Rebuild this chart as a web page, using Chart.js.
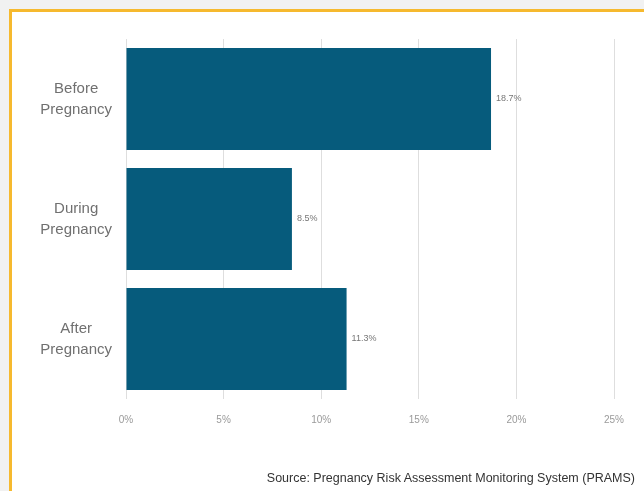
<!DOCTYPE html>
<html>
<head>
<meta charset="utf-8">
<script src="https://cdn.jsdelivr.net/npm/chart.js@4/dist/chart.umd.min.js"></script>
<style>
  html, body { margin: 0; padding: 0; background: #f1f1f1; }
  #wrap { position: relative; width: 644px; height: 491px; overflow: hidden; }
  #frame { position: absolute; left: 9px; top: 9px; width: 700px; height: 600px;
           background: #fff; border-left: 3px solid #f6b92e; border-top: 3px solid #f6b92e; }
  #chart { position: absolute; left: 0; top: 0; }
  #source { position: absolute; right: 9px; top: 471px; font: 12.5px "Liberation Sans", Arial, sans-serif;
            color: #333; white-space: nowrap; }
</style>
</head>
<body>
<div id="wrap">
  <div id="frame"></div>
  <canvas id="chart" width="644" height="491"></canvas>
  <div id="source">Source: Pregnancy Risk Assessment Monitoring System (PRAMS)</div>
</div>
<script>
// --- Data ---
const categories = [['Before', 'Pregnancy'], ['During', 'Pregnancy'], ['After', 'Pregnancy']];
const values = [18.7, 8.5, 11.3];
const xTicks = [0, 5, 10, 15, 20, 25];

const barColor = '#065b7c';

// draw value labels to the right of each bar
const valueLabels = {
  id: 'valueLabels',
  afterDatasetsDraw(chart) {
    const ctx = chart.ctx;
    const meta = chart.getDatasetMeta(0);
    ctx.save();
    ctx.font = '9px "Liberation Sans", Arial, sans-serif';
    ctx.fillStyle = '#777';
    ctx.textAlign = 'left';
    ctx.textBaseline = 'middle';
    meta.data.forEach((bar, i) => {
      ctx.fillText(values[i].toFixed(1) + '%', bar.x + 5, bar.y);
    });
    ctx.restore();
  }
};

new Chart(document.getElementById('chart'), {
  type: 'bar',
  data: {
    labels: categories,
    datasets: [{ data: values, backgroundColor: barColor, borderWidth: 0,
                 categoryPercentage: 1, barPercentage: 0.85 }]
  },
  options: {
    indexAxis: 'y',
    responsive: false,
    animation: false,
    layout: { padding: { top: 39, right: 30, bottom: 50, left: 28 } },
    plugins: { legend: { display: false }, tooltip: { enabled: false } },
    scales: {
      x: {
        min: 0, max: 25,
        afterBuildTicks: axis => { axis.ticks = xTicks.map(v => ({ value: v })); },
        grid: { color: '#dedede', drawTicks: false },
        border: { display: false },
        ticks: {
          padding: 15,
          color: '#9a9a9a',
          font: { family: '"Liberation Sans Narrow", "Liberation Sans", Arial', size: 10 },
          callback: v => v + '%'
        }
      },
      y: {
        grid: { display: false, drawTicks: false },
        border: { display: false },
        afterFit: axis => { axis.width = 98; },
        ticks: {
          crossAlign: 'center',
          padding: 14,
          color: '#707070',
          font: { family: '"Liberation Sans", Arial', size: 15, lineHeight: 1.4 }
        }
      }
    }
  },
  plugins: [valueLabels]
});
</script>
</body>
</html>
